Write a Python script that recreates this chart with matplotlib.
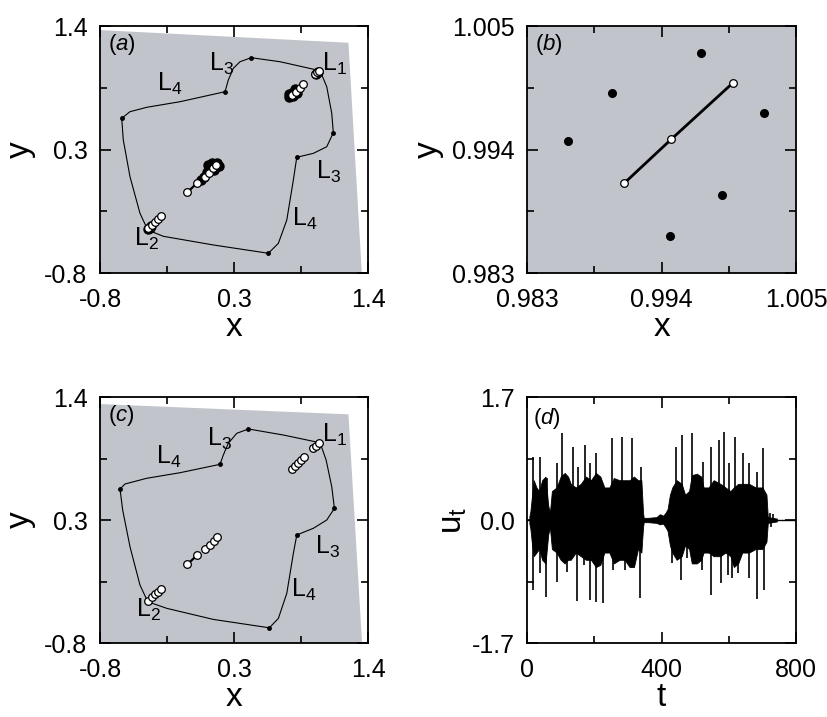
import numpy as np
import matplotlib.pyplot as plt

plt.rcParams['font.family'] = ['Liberation Sans', 'DejaVu Sans']
plt.rcParams['mathtext.fontset'] = 'custom'
plt.rcParams['mathtext.rm'] = 'Liberation Sans'
plt.rcParams['mathtext.it'] = 'Liberation Sans:italic'
plt.rcParams['axes.unicode_minus'] = False

GRAY = '#c1c4cb'

# ---------------- panel (a) ----------------
shade_a_x = [-0.8, 1.239, 1.349, -0.8]
shade_a_y = [1.364, 1.251, -0.8, -0.8]

loop_a_x = [-0.622, -0.554, -0.417, -0.143, 0.226, 0.253, 0.294, 0.349, 0.440, 0.678,
            1.006, 1.061, 1.102, 1.115, 1.061, 0.951, 0.815, 0.787, 0.733, 0.664,
            0.582, 0.130, -0.280, -0.408, -0.472, -0.554, -0.609, -0.622]
loop_a_y = [0.578, 0.637, 0.676, 0.726, 0.815, 0.919, 1.023, 1.082, 1.118, 1.082,
            1.002, 0.859, 0.623, 0.450, 0.325, 0.266, 0.231, 0.029, -0.328, -0.535,
            -0.624, -0.550, -0.473, -0.417, -0.268, 0.058, 0.385, 0.578]
vert_a_x = [-0.622, 0.226, 0.440, 1.006, 1.115, 0.815, 0.582, -0.408]
vert_a_y = [0.578, 0.815, 1.118, 1.002, 0.450, 0.231, -0.624, -0.417]

black_a_x = [0.754, 0.787, 0.774, 0.815, 0.748, 0.801,
             0.089, 0.122, 0.158, 0.177, 0.076, 0.138, 0.056, 0.029, 0.110,
             -0.41, -0.39, -0.38, 0.975, 0.99]
black_a_y = [0.765, 0.777, 0.801, 0.806, 0.795, 0.835,
             0.162, 0.177, 0.183, 0.153, 0.103, 0.118, 0.058, 0.029, 0.150,
             -0.41, -0.40, -0.385, 0.975, 0.99]

cen_a_x = [-0.083, -0.001, 0.062, 0.097, 0.128, 0.155]
cen_a_y = [-0.081, 0.005, 0.058, 0.094, 0.133, 0.165]
white_a_x = [0.965, 0.984, 0.998, 0.779, 0.809, 0.842, 0.869,
             -0.403, -0.376, -0.348, -0.321, -0.299]
white_a_y = [0.973, 0.991, 1.000, 0.786, 0.815, 0.851, 0.881,
             -0.402, -0.372, -0.343, -0.316, -0.292]

# (subscript, x of the "L" centre, y of the "L" centre)
lab_a = [('4', -0.28, 0.89), ('3', 0.144, 1.068), ('1', 1.074, 1.068),
         ('3', 1.02, 0.103), ('4', 0.828, -0.312), ('2', -0.472, -0.49)]

# ---------------- panel (b) ----------------
ring_b_x = [0.98633, 0.98998, 0.99721, 1.00241, 0.99897, 0.99470]
ring_b_y = [0.99478, 0.99906, 1.00257, 0.99728, 0.98997, 0.98632]
line_b_x = [0.99093, 0.99478, 0.99985]
line_b_y = [0.99098, 0.99490, 0.99995]

# ---------------- panel (c) ----------------
shade_c_x = [-0.8, 1.239, 1.351, -0.8]
shade_c_y = [1.337, 1.245, -0.8, -0.8]

loop_c_x = [-0.636, -0.595, -0.417, -0.143, 0.185, 0.212, 0.253, 0.322, 0.418, 0.705,
            1.006, 1.056, 1.102, 1.124, 1.061, 0.951, 0.815, 0.787, 0.733, 0.664,
            0.590, 0.130, -0.252, -0.408, -0.472, -0.554, -0.614, -0.636]
loop_c_y = [0.577, 0.622, 0.673, 0.723, 0.798, 0.881, 0.986, 1.075, 1.114, 1.060,
            0.991, 0.836, 0.598, 0.404, 0.300, 0.226, 0.166, 0.002, -0.356, -0.580,
            -0.664, -0.589, -0.490, -0.431, -0.282, 0.061, 0.389, 0.577]
vert_c_x = [-0.636, 0.185, 0.418, 1.006, 1.124, 0.815, 0.590, -0.408]
vert_c_y = [0.577, 0.798, 1.114, 0.991, 0.404, 0.166, -0.664, -0.431]

cen_c_x = [-0.083, -0.001, 0.062, 0.103, 0.136, 0.163]
cen_c_y = [-0.096, -0.013, 0.040, 0.079, 0.115, 0.150]
white_c_x = [0.951, 0.973, 0.996, 0.774, 0.801, 0.828, 0.850, 0.875,
             -0.403, -0.376, -0.348, -0.321, -0.299]
white_c_y = [0.941, 0.964, 0.986, 0.756, 0.786, 0.810, 0.836, 0.861,
             -0.422, -0.392, -0.365, -0.342, -0.317]

lab_c = [('4', -0.293, 0.866), ('3', 0.13, 1.03), ('1', 1.074, 1.06),
         ('3', 1.012, 0.061), ('4', 0.815, -0.326), ('2', -0.458, -0.505)]

# ---------------- panel (d) ----------------
body_t = [7, 10, 14, 20, 28, 36, 45, 55, 63, 68, 74, 88, 100, 112, 122, 130, 145, 160,
          175, 190, 205, 218, 230, 245, 258, 275, 290, 305, 318, 330, 340, 345, 347,
          360, 385, 395, 405, 412,
          418, 425, 432, 445, 460, 470, 482, 490, 505, 518, 525, 540, 555, 575, 590,
          605, 615, 628, 640, 660, 680, 700, 712, 716, 743]
body_hi = [0.05, 0.12, 0.3, 0.55, 0.45, 0.4, 0.55, 0.6, 0.2, 0.1, 0.4, 0.45, 0.6, 0.65,
           0.6, 0.5, 0.45, 0.5, 0.6, 0.55, 0.65, 0.6, 0.45, 0.45, 0.58, 0.55, 0.55,
           0.55, 0.6, 0.55, 0.55, 0.1, 0.03,
           0.03, 0.04, 0.08, 0.06, 0.1,
           0.15, 0.35, 0.45, 0.55, 0.5, 0.35, 0.4, 0.62, 0.64, 0.6, 0.45, 0.45, 0.55,
           0.5, 0.45, 0.4, 0.45, 0.5, 0.5, 0.5, 0.45, 0.45, 0.35, 0.04, 0.02]
body_lo = [-0.05, -0.12, -0.3, -0.5, -0.45, -0.4, -0.55, -0.6, -0.2, -0.1, -0.4, -0.45,
           -0.55, -0.6, -0.55, -0.55, -0.45, -0.5, -0.55, -0.55, -0.65, -0.62, -0.45,
           -0.45, -0.6, -0.55, -0.55, -0.65, -0.65, -0.4, -0.45, -0.1, -0.03,
           -0.03, -0.04, -0.06, -0.05, -0.1,
           -0.15, -0.35, -0.45, -0.55, -0.5, -0.35, -0.4, -0.6, -0.6, -0.55, -0.45,
           -0.45, -0.5, -0.5, -0.45, -0.5, -0.65, -0.6, -0.45, -0.45, -0.4, -0.4,
           -0.3, -0.04, -0.02]

spike_up_t = [18.8, 38.7, 58.5, 90.2, 103.1, 135.8, 152.7, 172.5, 187.4, 205.2, 251.8,
              281.5, 311.3, 339.0,
              442.1, 462.0, 489.7, 524.4, 546.2, 572.0, 585.9, 601.7, 618.6, 643.4,
              661.2, 685.0, 702.9, 722, 730]
spike_up_u = [0.876, 0.876, 0.576, 0.783, 1.198, 1.014, 0.737, 1.037, 0.783, 0.922,
              1.138, 1.152, 1.129, 0.737,
              1.014, 1.175, 1.198, 0.806, 1.014, 1.106, 1.221, 0.783, 1.152, 0.922,
              0.783, 0.668, 0.991, 0.1, 0.08]
spike_dn_t = [18.8, 38.7, 56.5, 90.2, 118.0, 149.7, 170.5, 187.4, 205.2, 227.0, 256.8,
              291.4, 336.1,
              430.2, 457.0, 474.8, 519.4, 547.2, 576.0, 596.8, 608.7, 628.5, 661.2,
              685.0, 705.8, 725]
spike_dn_u = [-0.968, -0.737, -1.06, -0.853, -0.714, -1.12, -0.622, -1.106, -1.129,
              -1.152, -0.691, -0.691, -1.083,
              -0.599, -0.829, -0.53, -0.691, -1.037, -0.876, -0.76, -0.806, -0.737,
              -0.806, -1.092, -0.968, -0.1]


def style(ax, lo, hi, mid_x, mid_y, labels):
    ax.set_xlim(lo[0], hi[0])
    ax.set_ylim(lo[1], hi[1])
    ax.set_xticks([lo[0], (lo[0] + hi[0]) / 2, hi[0]], labels[0])
    ax.set_yticks([lo[1], (lo[1] + hi[1]) / 2, hi[1]], labels[1])
    ax.set_xticks(mid_x, minor=True)
    ax.set_yticks(mid_y, minor=True)
    ax.tick_params(which='both', direction='in', top=True, right=True,
                   labelsize=18, width=1.2)
    ax.tick_params(axis='x', which='both', pad=11)
    ax.tick_params(axis='y', which='both', pad=9)
    ax.tick_params(which='major', length=8)
    ax.tick_params(which='minor', length=5)
    for s in ax.spines.values():
        s.set_linewidth(1.3)


def map_panel(ax, sx, sy, lx, ly, vx, vy, cx, cy, wx, wy, labs, tag, bx=None, by=None):
    ax.fill(sx, sy, color=GRAY, lw=0, zorder=0)
    ax.plot(lx, ly, color='k', lw=0.8, zorder=2)
    ax.plot(vx, vy, 'o', color='k', ms=2.5, zorder=3)
    if bx is not None:
        ax.plot(bx, by, 'o', color='k', ms=6.5, zorder=3)
    ax.plot(cx[:2], cy[:2], color='k', lw=1.6, zorder=3)
    ax.plot(cx, cy, 'o', mfc='white', mec='k', mew=0.9, ms=5.5, zorder=4)
    ax.plot(wx, wy, 'o', mfc='white', mec='k', mew=0.9, ms=5.5, zorder=4)
    for sub, x, y in labs:
        ax.text(x - 0.05, y - 0.065, r'L$_{\mathrm{' + sub + '}}$', fontsize=18,
                ha='left', va='baseline', zorder=5)
    ax.text(0.03, 0.975, r'($\mathit{' + tag + '}$)', transform=ax.transAxes,
            fontsize=16, ha='left', va='top')
    style(ax, (-0.8, -0.8), (1.4, 1.4), [-0.25, 0.85], [-0.25, 0.85],
          (['-0.8', '0.3', '1.4'], ['-0.8', '0.3', '1.4']))
    ax.set_xlabel('x', fontsize=24, labelpad=0)
    ax.set_ylabel('y', fontsize=24, labelpad=6)


fig = plt.figure(figsize=(8.28, 7.17), dpi=100)
ax_a = fig.add_axes([0.1208, 0.6192, 0.3237, 0.3445])
ax_b = fig.add_axes([0.6365, 0.6192, 0.3249, 0.3445])
ax_c = fig.add_axes([0.1208, 0.1032, 0.3237, 0.3431])
ax_d = fig.add_axes([0.6365, 0.1032, 0.3249, 0.3431])

map_panel(ax_a, shade_a_x, shade_a_y, loop_a_x, loop_a_y, vert_a_x, vert_a_y,
          cen_a_x, cen_a_y, white_a_x, white_a_y, lab_a, 'a', black_a_x, black_a_y)
map_panel(ax_c, shade_c_x, shade_c_y, loop_c_x, loop_c_y, vert_c_x, vert_c_y,
          cen_c_x, cen_c_y, white_c_x, white_c_y, lab_c, 'c')

# panel (b)
ax_b.set_facecolor(GRAY)
ax_b.plot(ring_b_x, ring_b_y, 'o', color='k', ms=5.5, zorder=3)
ax_b.plot(line_b_x, line_b_y, color='k', lw=2, zorder=3)
ax_b.plot(line_b_x, line_b_y, 'o', mfc='white', mec='k', mew=0.9, ms=5.5, zorder=4)
ax_b.text(0.03, 0.975, r'($\mathit{b}$)', transform=ax_b.transAxes,
          fontsize=16, ha='left', va='top')
style(ax_b, (0.983, 0.983), (1.005, 1.005), [0.9885, 0.9995], [0.9885, 0.9995],
      (['0.983', '0.994', '1.005'], ['0.983', '0.994', '1.005']))
ax_b.set_xlabel('x', fontsize=24, labelpad=0)
ax_b.set_ylabel('y', fontsize=24, labelpad=6)

# panel (d)
ax_d.axhline(0, color='k', lw=1.0, zorder=1)
ax_d.fill_between(body_t, body_lo, body_hi, color='k', lw=0.6, zorder=2)
ax_d.vlines(spike_up_t, 0, spike_up_u, color='k', lw=1.2, zorder=2)
ax_d.vlines(spike_dn_t, spike_dn_u, 0, color='k', lw=1.2, zorder=2)
ax_d.text(0.022, 0.965, r'($\mathit{d}$)', transform=ax_d.transAxes,
          fontsize=16, ha='left', va='top')
style(ax_d, (0, -1.7), (800, 1.7), [200, 600], [-0.85, 0.85],
      (['0', '400', '800'], ['-1.7', '0.0', '1.7']))
ax_d.set_xlabel('t', fontsize=24, labelpad=0)
ax_d.set_ylabel(r'u$_{\mathrm{t}}$', fontsize=24, labelpad=2)

fig.savefig('out.png', dpi=100)
